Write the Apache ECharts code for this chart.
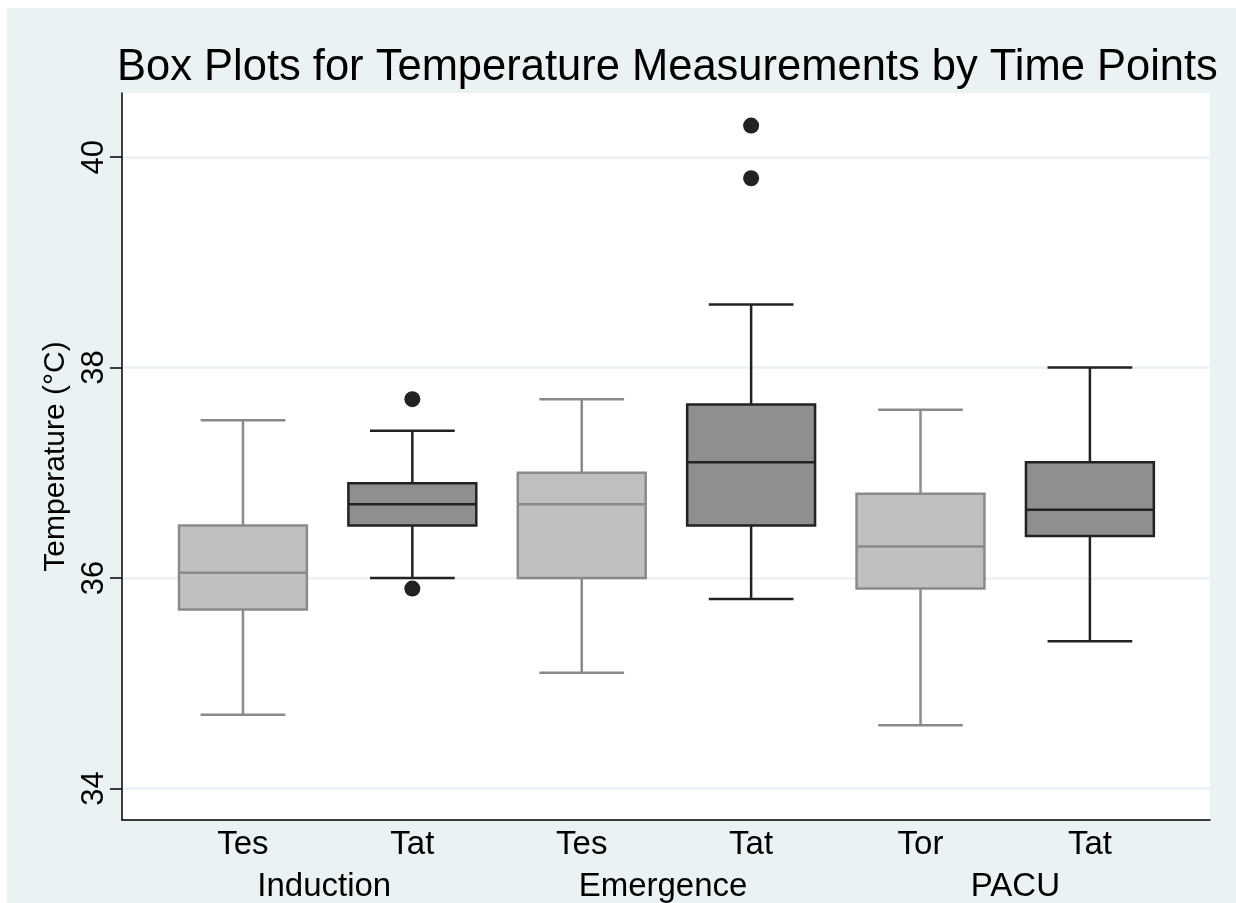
<!doctype html>
<html>
<head>
    <title>Box Plots for Temperature Measurements</title>
    <script src="https://cdn.jsdelivr.net/npm/echarts@6/dist/echarts.min.js"></script>
</head>
<style>
    html, body {
        margin: 0;
        padding: 0;
        background: #fff;
    }
    #chart {
        position: absolute;
        left: 7px;
        top: 8px;
        width: 1229px;
        height: 895px;
    }
</style>
<body>
<div id="chart"></div>
<script>
  // one box per position on the x axis
  var positions = [1, 2, 3, 4, 5, 6];
  var boxLabels = ['Tes', 'Tat', 'Tes', 'Tat', 'Tor', 'Tat'];
  var shades = ['light', 'dark', 'light', 'dark', 'light', 'dark'];
  var lowWhisker = [34.7, 36.0, 35.1, 35.8, 34.6, 35.4];
  var q1 = [35.7, 36.5, 36.0, 36.5, 35.9, 36.4];
  var median = [36.05, 36.7, 36.7, 37.1, 36.3, 36.65];
  var q3 = [36.5, 36.9, 37.0, 37.65, 36.8, 37.1];
  var highWhisker = [37.5, 37.4, 37.7, 38.6, 37.6, 38.0];

  // outliers: [position, value]
  var outliers = [[2, 37.7], [2, 35.9], [4, 40.3], [4, 39.8]];

  var groupPositions = [1.48, 3.48, 5.56];
  var groupLabels = ['Induction', 'Emergence', 'PACU'];

  var yTicks = [34, 36, 38, 40];

  var FONT = '"Liberation Sans", Arial, Helvetica, sans-serif';
  var styles = {
    light: { fill: '#c0c0c0', stroke: '#8a8a8a' },
    dark: { fill: '#8f8f8f', stroke: '#222222' }
  };

  var boxData = positions.map(function (p, i) {
    return [p, lowWhisker[i], q1[i], median[i], q3[i], highWhisker[i], i];
  });

  function renderBox(params, api) {
    var x = api.value(0);
    var st = styles[shades[api.value(6)]];
    var half = api.size([0.755, 0])[0] / 2;
    var capHalf = api.size([0.5, 0])[0] / 2;
    var pLow = api.coord([x, api.value(1)]);
    var pQ1 = api.coord([x, api.value(2)]);
    var pMed = api.coord([x, api.value(3)]);
    var pQ3 = api.coord([x, api.value(4)]);
    var pHigh = api.coord([x, api.value(5)]);
    var cx = pMed[0];
    var line = { stroke: st.stroke, lineWidth: 2.5 };
    return {
      type: 'group',
      children: [
        { type: 'line', shape: { x1: cx, y1: pQ3[1], x2: cx, y2: pHigh[1] }, style: line },
        { type: 'line', shape: { x1: cx, y1: pQ1[1], x2: cx, y2: pLow[1] }, style: line },
        { type: 'line', shape: { x1: cx - capHalf, y1: pHigh[1], x2: cx + capHalf, y2: pHigh[1] }, style: line },
        { type: 'line', shape: { x1: cx - capHalf, y1: pLow[1], x2: cx + capHalf, y2: pLow[1] }, style: line },
        {
          type: 'rect',
          shape: { x: cx - half, y: pQ3[1], width: half * 2, height: pQ1[1] - pQ3[1] },
          style: { fill: st.fill, stroke: st.stroke, lineWidth: 2.5 }
        },
        { type: 'line', shape: { x1: cx - half, y1: pMed[1], x2: cx + half, y2: pMed[1] }, style: line }
      ]
    };
  }

  var myChart = echarts.init(document.getElementById('chart'));

  var option = {
    backgroundColor: '#eaf2f3',
    animation: false,
    title: {
      text: 'Box Plots for Temperature Measurements by Time Points',
      left: 105,
      top: 33,
      textStyle: {
        fontFamily: FONT,
        fontSize: 43.5,
        fontWeight: 'normal',
        color: '#000'
      }
    },
    grid: {
      left: 115,
      top: 85,
      width: 1088,
      height: 727,
      outerBoundsMode: 'none',
      show: true,
      backgroundColor: '#ffffff',
      borderWidth: 0
    },
    xAxis: [
      {
        type: 'value',
        min: 0.286,
        max: 6.709,
        axisLine: { show: true, onZero: false, lineStyle: { color: '#000', width: 1.5 } },
        axisTick: { show: false },
        splitLine: { show: false },
        axisLabel: {
          customValues: positions,
          formatter: function (v) { return boxLabels[positions.indexOf(v)]; },
          fontFamily: FONT,
          fontSize: 33,
          color: '#000',
          margin: 8
        }
      },
      {
        type: 'value',
        position: 'bottom',
        offset: 42,
        min: 0.286,
        max: 6.709,
        axisLine: { show: false },
        axisTick: { show: false },
        splitLine: { show: false },
        axisLabel: {
          customValues: groupPositions,
          formatter: function (v) { return groupLabels[groupPositions.indexOf(v)]; },
          fontFamily: FONT,
          fontSize: 33,
          color: '#000',
          margin: 8
        }
      }
    ],
    yAxis: {
      type: 'value',
      min: 33.7,
      max: 40.61,
      name: 'Temperature (°C)',
      nameLocation: 'middle',
      nameRotate: 90,
      nameGap: 45,
      nameTextStyle: {
        fontFamily: FONT,
        fontSize: 30,
        color: '#000'
      },
      axisLine: { show: true, lineStyle: { color: '#000', width: 1.5 } },
      axisTick: {
        show: true,
        customValues: yTicks,
        length: 12,
        lineStyle: { color: '#000', width: 1.5 }
      },
      axisLabel: {
        customValues: yTicks,
        rotate: 90,
        fontFamily: FONT,
        fontSize: 31,
        color: '#000',
        margin: 12
      },
      splitLine: {
        show: true,
        lineStyle: { color: '#eaf2f3', width: 2.5 }
      }
    },
    series: [
      {
        type: 'custom',
        name: 'box',
        xAxisIndex: 0,
        renderItem: renderBox,
        encode: { x: 0, y: [1, 2, 3, 4, 5] },
        data: boxData,
        z: 3
      },
      {
        type: 'scatter',
        name: 'outliers',
        xAxisIndex: 0,
        symbol: 'circle',
        symbolSize: 16,
        itemStyle: { color: '#222222', opacity: 1 },
        data: outliers,
        z: 4
      }
    ]
  };

  myChart.setOption(option);
</script>
</body>
</html>
